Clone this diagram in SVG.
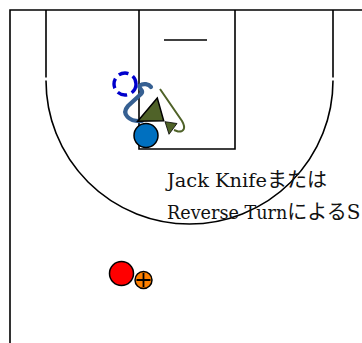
<svg xmlns="http://www.w3.org/2000/svg" width="362" height="343" viewBox="0 0 362 343">
<style>
.court{fill:none;stroke:#000;stroke-width:1.6}
.lbl{font-family:"DejaVu Serif","Noto Sans CJK JP",serif;font-size:20px;fill:#111}
.jp{font-family:"Noto Sans CJK JP",sans-serif;font-size:20px}
.pl{stroke:#000;stroke-width:1.5}
</style>
<rect width="362" height="343" fill="#fff"/>
<g id="court">
<path class="court" d="M10 343 V10 H370" stroke-width="2"/>
<path class="court" d="M139 10 V149 H235 V10"/>
<path class="court" d="M164 40 H207"/>
<path class="court" d="M46 10 V77.5 M333 10 V77.5"/>
<path class="court" d="M46 80.5 A143.5 143.5 0 0 0 333 80.5"/>
</g>
<g id="label">
<text class="lbl" x="167" y="187"><tspan font-size="19.4">Jack Knife</tspan><tspan class="jp">または</tspan></text>
<text class="lbl" x="167" y="219"><tspan font-size="17.6">Reverse Turn</tspan><tspan class="jp">による</tspan><tspan>S</tspan></text>
</g>
<g id="connectors">
<path d="M142 121 C129 122,121 114,128 106 L141 94 C145 90,137 88,140 85.5 C143 83,149 84,151 87" fill="none" stroke="#366092" stroke-width="4.2" stroke-linecap="round"/>
<path d="M160 89 L182 121 C186 128,184 132,178 131.5 L174 130" fill="none" stroke="#4f6228" stroke-width="2"/>
<polygon points="165,121.7 177,123.5 169,134.3" fill="#4f6228" stroke="#000" stroke-width="0.8"/>
</g>
<g id="ghost">
<circle cx="125" cy="84" r="11" fill="none" stroke="#0000cc" stroke-width="3.4" stroke-dasharray="10 5"/>
</g>
<g id="defender">
<polygon class="pl" points="157.3,98 137.7,121.3 163.7,120.7" fill="#4f6228"/>
</g>
<g id="offense">
<circle class="pl" cx="146" cy="135.5" r="12" fill="#0070c0"/>
</g>
<g id="red-player">
<circle class="pl" cx="121.5" cy="273.5" r="12" fill="#ff0000"/>
</g>
<g id="ball">
<circle class="pl" cx="143.5" cy="280" r="8.5" fill="#ff8000"/>
<path d="M136.5 280 H150.5 M143.5 273 V287" stroke="#000" stroke-width="1.8"/>
</g>
</svg>
